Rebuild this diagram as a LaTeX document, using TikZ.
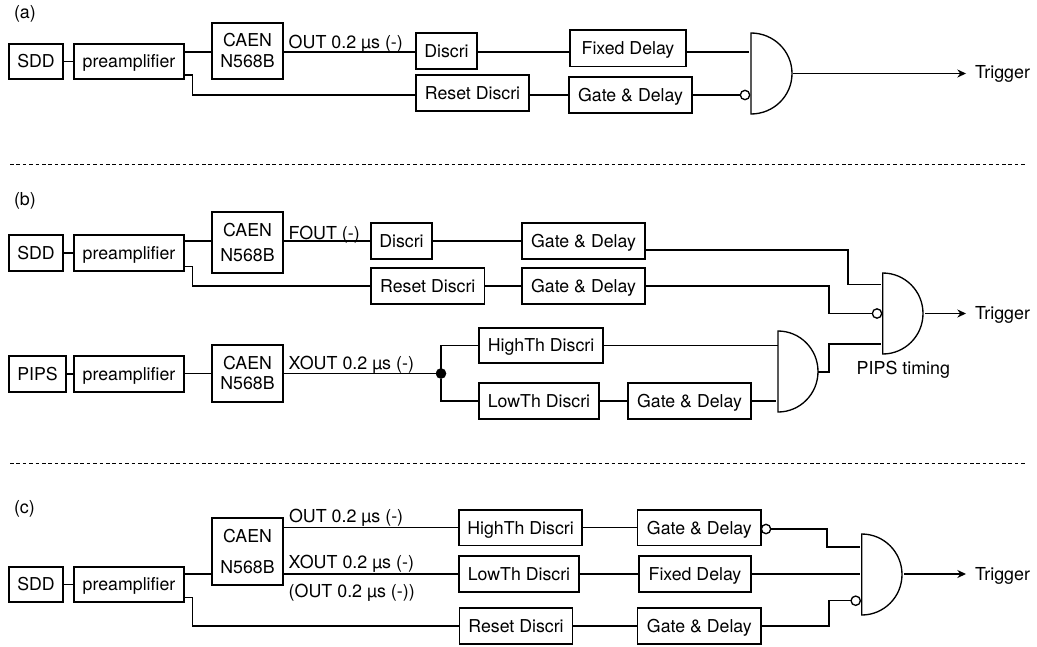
\documentclass[tikz,border=0pt]{standalone}
\usepackage{fontspec}
\setmainfont{TeX Gyre Heros}
\usetikzlibrary{arrows.meta}
\tikzset{
  lbl/.style={anchor=base west,inner sep=0pt,outer sep=0pt,font=\fontsize{13.4}{15}\selectfont},
  boxbase/.style={draw,line width=1pt,inner sep=0pt,outer sep=0pt,font=\fontsize{13.3}{15}\selectfont,align=center},
  onel/.style={boxbase,text height=9.5pt,text depth=0pt},
  wire/.style={line width=1pt},
  outw/.style={line width=1pt,-{Stealth[length=6.5pt,width=6pt]}},
  bub/.style={draw,circle,fill=white,line width=1pt,minimum size=7pt,inner sep=0pt,outer sep=0pt},
  gatebox/.style={inner sep=0pt,outer sep=0pt},
  sep/.style={line width=0.8pt,dash pattern=on 2.7pt off 2.1pt}
}
% name x1 y1 x2 y2 text (pixels)
\newcommand{\bxn}[7][onel]{\node[#1,minimum width={(#5-#3)*0.75pt},minimum height={(#6-#4)*0.75pt}] (#2) at ({(#3+#5)/2},{(#4+#6)/2}) {#7};}
\newcommand{\gt}[5]{\node[gatebox,minimum width={(#4-#2)*0.75pt},minimum height={(#5-#3)*0.75pt}] (#1) at ({(#2+#4)/2},{(#3+#5)/2}) {};
  \draw[line width=1pt] (#1.north west) -- (#1.south west) arc[start angle=-90,end angle=90,x radius=#4-#2,y radius=-(#5-#3)/2] -- cycle;}
\begin{document}
\begin{tikzpicture}[x=0.75pt,y=-0.75pt]
\useasboundingbox (0,0) rectangle (1037,646);
%% (a)
\node[lbl] (la) at (14,18) {(a)};
\bxn{asdd}{9}{44}{63}{79}{SDD}
\bxn{apre}{74}{44}{184}{79}{preamplifier}
\bxn[boxbase]{acaen}{212}{23}{283}{79}{CAEN\\[0.75pt]N568B}
\bxn{adis}{416}{33}{477}{69}{Discri}
\bxn{arst}{416}{75}{529}{111}{Reset Discri}
\bxn{afix}{570}{30}{686}{66.5}{Fixed Delay}
\bxn{agd}{569}{77}{692}{113}{Gate \& Delay}
\gt{ag}{751}{33}{792}{114}
\node[bub] (abub) at (745,95) {};
\node[lbl] (aout) at (288.7,48.3) {OUT 0.2 µs (-)};
\node[lbl] (atrg) at (975,78) {Trigger};
\coordinate (aend) at (966,74);
\coordinate (ay) at (300,52);
\draw[wire] (asdd.east) -- (apre.west);
\draw[wire] (ay -| apre.east) -- (ay -| acaen.west);
\draw[wire] (ay -| acaen.east) -- (ay -| adis.west);
\draw[wire] (ay -| adis.east) -- (ay -| afix.west);
\draw[wire,shorten >=1.5pt] (ay -| afix.east) -- (ay -| ag.west);
\draw[wire] ([yshift=3pt]apre.south east) -- ++(8.5,0) |- (abub.west -| arst.west);
\draw[wire] (abub.west -| agd.west) -- (abub.west -| arst.east);
\draw[wire] (abub.west -| agd.east) -- (abub.west);
\draw[outw,shorten <=1pt] (ag.east) -- (ag.east -| aend);
%% separator 1
\coordinate (s1a) at (10,164.5); \coordinate (s1b) at (1027,164.5);
\draw[sep] (s1a) -- (s1b);
%% (b)
\node[lbl] (lb) at (14,205) {(b)};
\bxn{bsdd}{9}{235}{63}{271}{SDD}
\bxn{bpre}{74}{235}{184}{271}{preamplifier}
\bxn[boxbase]{bcaen}{212}{212}{283}{273}{CAEN\\[3.75pt]N568B}
\bxn{bdis}{371}{223}{432}{259}{Discri}
\bxn{brst}{371}{268}{484.5}{304}{Reset Discri}
\bxn{bgd}{522}{223}{645}{259}{Gate \& Delay}
\bxn{bgr}{522}{268}{645}{304}{Gate \& Delay}
\gt{bg}{882.7}{273}{923}{354}
\node[bub] (bbub) at (877,313.5) {};
\node[lbl] (bfo) at (288.7,239) {FOUT (-)};
\node[lbl] (btrg) at (975,319) {Trigger};
\node[lbl] (bpt) at (856.7,374) {PIPS timing};
\coordinate (bend) at (966,313.5);
\draw[wire] (bsdd.east) -- (bpre.west);
\draw[wire] (bdis.west -| bcaen.west) -- (bdis.west -| bpre.east);
\draw[wire] (bdis.west -| bcaen.east) -- (bdis.west);
\draw[wire] (bdis.east) -- (bgd.west);
\draw[wire] ([yshift=3.5pt]bpre.south east) -- ++(8.5,0) |- (brst.west);
\draw[wire] (brst.east) -- (bgr.west);
\coordinate (bj1) at (848,250); \coordinate (bj2) at (848,284.5);
\draw[wire,shorten >=1.5pt] (bj1 -| bgd.east) -- (bj1) -- (bj2) -- (bj2 -| bg.west);
\coordinate (bj3) at (829,286);
\draw[wire] (bgr.east) -- (bj3) |- (bbub.west);
\draw[outw,shorten <=1.5pt] (bend -| bg.east) -- (bend);
% PIPS
\bxn{psd}{9}{356}{66}{392}{PIPS}
\bxn{ppre}{74}{356}{184}{392}{preamplifier}
\bxn[boxbase]{pcaen}{212}{345}{283}{402}{CAEN\\[0pt]N568B}
\bxn{phi}{479}{328}{603}{363}{HighTh Discri}
\bxn{plo}{479}{383}{599}{419}{LowTh Discri}
\bxn{pgd}{628}{383}{751}{419}{Gate \& Delay}
\gt{pg}{778}{331}{818}{412}
\node[draw,circle,fill=black,minimum size=7.5pt,inner sep=0pt,outer sep=0pt] (pj) at (441,373.5) {};
\node[lbl] (pxo) at (288.7,369) {XOUT 0.2 µs (-)};
\draw[wire] (psd.east) -- (ppre.west);
\draw[wire] (pcaen.west -| ppre.east) -- (pcaen.west);
\draw[wire] (pcaen.east) -- (pj);
\draw[wire] (pj) |- (phi.west);
\draw[wire] (pj) |- (plo.west);
\draw[wire] (phi.east) -- (phi.east -| pg.west);
\draw[wire] (plo.east) -- (pgd.west);
\draw[wire,shorten >=1.5pt] (pgd.east) -- (pgd.east -| pg.west);
\coordinate (pk1) at (829,372); \coordinate (pk2) at (829,344);
\draw[wire,shorten >=1.5pt] (pk1 -| pg.east) -- (pk1) -- (pk2) -- (pk2 -| bg.west);
%% separator 2
\coordinate (s2a) at (10,463.5); \coordinate (s2b) at (1027,463.5);
\draw[sep] (s2a) -- (s2b);
%% (c)
\node[lbl] (lc) at (14,513) {(c)};
\bxn{csdd}{9}{567}{63}{602}{SDD}
\bxn{cpre}{74}{567}{184}{602}{preamplifier}
\bxn[boxbase]{ccaen}{212}{518}{283}{585}{CAEN\\[8.7pt]N568B}
\bxn{chi}{459}{510}{582}{545.7}{HighTh Discri}
\bxn{clo}{459}{556}{579}{592}{LowTh Discri}
\bxn{crs}{459.5}{608}{572.5}{644}{Reset Discri}
\bxn{cgh}{637.7}{510}{761}{545.7}{Gate \& Delay}
\bxn{cfx}{639}{556}{751}{592}{Fixed Delay}
\bxn{cgr}{637.7}{608}{761}{644}{Gate \& Delay}
\gt{cg}{861.7}{534}{902}{615}
\node[bub] (cb1) at (766,529) {};
\node[bub] (cb2) at (855.7,600.7) {};
\node[lbl] (co1) at (289,522) {OUT 0.2 µs (-)};
\node[lbl] (co2) at (288.7,568) {XOUT 0.2 µs (-)};
\node[lbl] (co3) at (288.7,597) {(OUT 0.2 µs (-))};
\node[lbl] (ctrg) at (975,580) {Trigger};
\coordinate (cend) at (966,574);
\coordinate (cy1) at (300,527.7);
\draw[wire] (csdd.east) -- (cpre.west);
\draw[wire] (cend -| cpre.east) -- (cend -| ccaen.west);
\draw[wire] (cy1 -| ccaen.east) -- (cy1 -| chi.west);
\draw[wire] (cend -| ccaen.east) -- (cend -| clo.west);
\draw[wire] ([yshift=3.5pt]cpre.south east) -- ++(8.5,0) |- (crs.west);
\draw[wire] (cy1 -| chi.east) -- (cy1 -| cgh.west);
\draw[wire] (cend -| clo.east) -- (cend -| cfx.west);
\draw[wire] (crs.east) -- (cgr.west);
\coordinate (ck1) at (827,529); \coordinate (ck2) at (827,547);
\draw[wire,shorten >=1.5pt] (cb1.east) -- (ck1) -- (ck2) -- (ck2 -| cg.west);
\draw[wire,shorten >=1.5pt] (cend -| cfx.east) -- (cend -| cg.west);
\coordinate (ck3) at (829,626);
\draw[wire] (cgr.east) -- (ck3) |- (cb2.west);
\draw[outw,shorten <=1.5pt] (cend -| cg.east) -- (cend);
\end{tikzpicture}
\end{document}
